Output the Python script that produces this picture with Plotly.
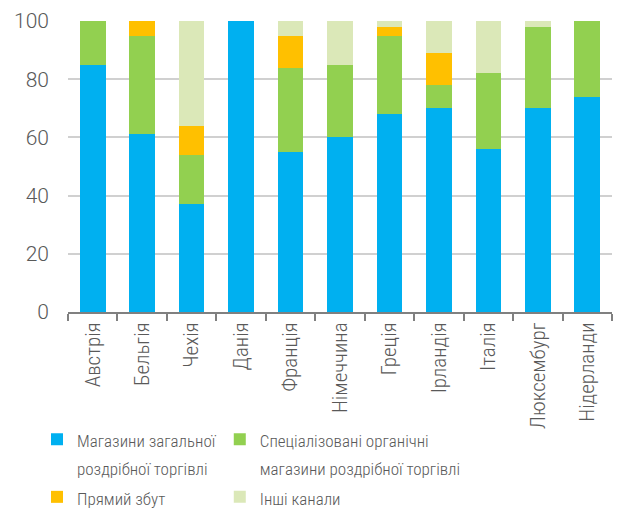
import plotly.graph_objects as go

countries = ["Австрія", "Бельгія", "Чехія", "Данія", "Франція", "Німеччина",
             "Греція", "Ірландія", "Італія", "Люксембург", "Нідерланди"]

general_retail = [85, 61, 37, 100, 55, 60, 68, 70, 56, 70, 74]
organic_retail = [15, 34, 17, 0, 29, 25, 27, 8, 26, 28, 26]
direct_sales = [0, 5, 10, 0, 11, 0, 3, 11, 0, 0, 0]
other_channels = [0, 0, 36, 0, 5, 15, 2, 11, 18, 2, 0]

FONT = "Roboto Condensed"
TEXT = "#595959"


def label(*lines):
    # legend text: small glyphs, while the legend font size sets the line spacing
    return "<br>".join(f'<span style="font-size:17px">{ln}</span>' for ln in lines)


series = [
    (label("Магазини загальної", "роздрібної торгівлі"), general_retail, "#00b0f0", "legend"),
    (label("Спеціалізовані органічні", "магазини роздрібної торгівлі"), organic_retail, "#92d050", "legend2"),
    (label("Прямий збут"), direct_sales, "#ffc000", "legend"),
    (label("Інші канали"), other_channels, "#dbe8b8", "legend2"),
]

fig = go.Figure()
for i, (name, vals, color, leg) in enumerate(series):
    fig.add_trace(go.Bar(
        x=countries, y=vals, name=name, legend=leg, legendgroup=f"g{i}",
        marker=dict(color=color, line=dict(width=0)),
    ))

legend_common = dict(
    orientation="v",
    traceorder="normal",
    xref="paper", xanchor="left",
    yref="container", y=0.175, yanchor="top",
    font=dict(size=21, color=TEXT, family=FONT, weight=300),
    itemwidth=30,
    tracegroupgap=0,
    valign="top",
    bgcolor="rgba(0,0,0,0)",
)

fig.update_layout(
    barmode="stack",
    bargap=0.48,
    width=622, height=508,
    margin=dict(l=68, r=10, t=21, b=196),
    paper_bgcolor="white", plot_bgcolor="white",
    font=dict(family=FONT, color=TEXT, weight=300),
    showlegend=True,
    legend=dict(x=-0.057, **legend_common),
    legend2=dict(x=0.279, **legend_common),
)
fig.update_yaxes(
    range=[0, 100], tickvals=[0, 20, 40, 60, 80, 100],
    showgrid=True, gridcolor="#d0d0d0", gridwidth=1.5,
    zeroline=False, showline=False,
    tickfont=dict(size=21, color=TEXT, family="Roboto", weight=300),
    ticks="", ticklabelstandoff=18,
)
fig.update_xaxes(
    showline=True, linecolor="#808080", linewidth=2,
    ticks="outside", tickson="boundaries", ticklen=7, tickcolor="#808080", tickwidth=2,
    tickangle=-90, tickfont=dict(size=21, color=TEXT, family=FONT, weight=300),
    showgrid=False, automargin=False,
)

fig.write_html("out.html")
